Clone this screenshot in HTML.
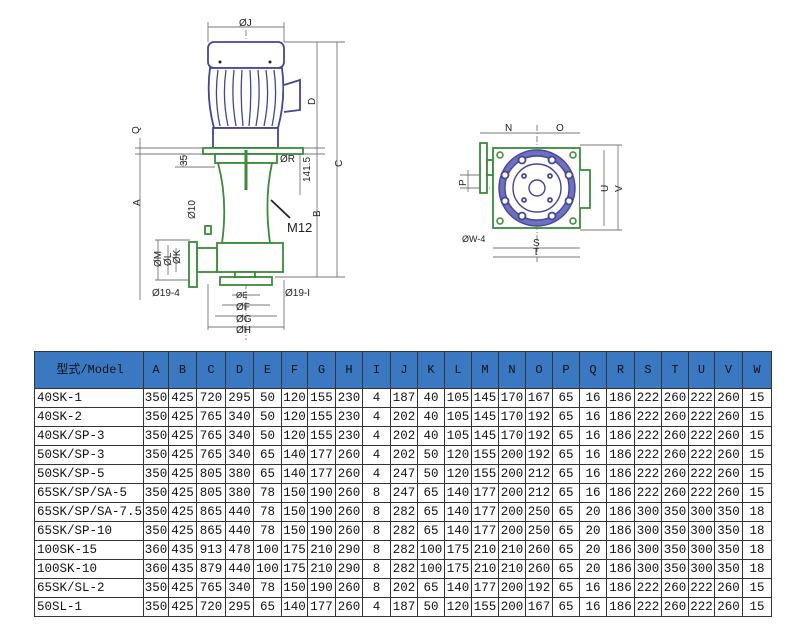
<!DOCTYPE html>
<html><head><meta charset="utf-8"><style>
body{margin:0;background:#fff;width:800px;height:630px;overflow:hidden;position:relative;font-family:"Liberation Mono","Noto Sans CJK SC",monospace}
svg{position:absolute;left:0;top:0}
table{position:absolute;left:34px;top:351px;border-collapse:collapse;table-layout:fixed}
td{border:1px solid #333;height:18px;padding:0;font-size:12.5px;text-align:center;line-height:18px;color:#111;white-space:nowrap;overflow:hidden}
tr.h td{background:#3a78c2;height:36px;font-size:12px;color:#111}
td.m{text-align:left;padding-left:2px}
tr.h td.m{text-align:center}
</style></head><body>
<svg width="800" height="350" viewBox="0 0 800 350" font-family="Liberation Sans,sans-serif" font-size="10" fill="#222">
<g stroke="#777" stroke-width="0.9" fill="none">
<line x1="208" y1="27" x2="284" y2="27"/><line x1="208" y1="22" x2="208" y2="42"/><line x1="284" y1="22" x2="284" y2="42"/>
<line x1="246" y1="30" x2="246" y2="340" stroke-dasharray="6,2,1,2"/>
<line x1="284" y1="42" x2="345" y2="42"/><line x1="300" y1="148" x2="325" y2="148"/><line x1="300" y1="154" x2="325" y2="154"/><line x1="275" y1="277" x2="345" y2="277"/>
<line x1="317" y1="42" x2="317" y2="277"/><line x1="337" y1="42" x2="337" y2="277"/>
<line x1="300" y1="154" x2="300" y2="195"/>
<line x1="140" y1="138" x2="140" y2="300"/><line x1="135" y1="148" x2="205" y2="148"/><line x1="135" y1="154" x2="205" y2="154"/>
<line x1="183" y1="154" x2="183" y2="167"/><line x1="175" y1="167" x2="215" y2="167"/>
<line x1="158" y1="240" x2="158" y2="280"/><line x1="168" y1="245" x2="168" y2="275"/><line x1="176" y1="248" x2="176" y2="272"/>
<line x1="155" y1="240" x2="190" y2="240"/><line x1="155" y1="280" x2="190" y2="280"/>
<line x1="208" y1="284" x2="208" y2="330"/><line x1="284" y1="280" x2="284" y2="330"/>
<line x1="208" y1="327" x2="284" y2="327"/><line x1="215" y1="316" x2="277" y2="316"/><line x1="222" y1="305" x2="270" y2="305"/><line x1="232" y1="295" x2="260" y2="295"/>
<line x1="480" y1="133" x2="580" y2="133"/><line x1="537" y1="125" x2="537" y2="262" stroke-dasharray="6,2,1,2"/>
<line x1="493" y1="248" x2="580" y2="248"/><line x1="493" y1="257" x2="580" y2="257"/>
<line x1="604" y1="150" x2="604" y2="226"/><line x1="618" y1="145" x2="618" y2="230"/>
<line x1="580" y1="145" x2="622" y2="145"/><line x1="580" y1="230" x2="622" y2="230"/>
<line x1="460" y1="175" x2="480" y2="175"/><line x1="460" y1="188" x2="480" y2="188"/><line x1="468" y1="170" x2="468" y2="192"/>
<line x1="470" y1="188" x2="537" y2="188" stroke-dasharray="6,2,1,2"/>
</g>
<g stroke="#44449a" stroke-width="1.8" fill="#fff">
<rect x="208" y="42" width="76" height="26" rx="6"/>
<path d="M210 68 Q206 98 214 128 L278 128 Q286 98 282 68 Z"/>
<path d="M284 85 L300 80 L300 110 L284 112" />
<rect x="213" y="128" width="65" height="20"/>
</g>
<g stroke="#44449a" stroke-width="1.3" fill="none">
<path d="M218 70 Q214 98 220 126M226 70 Q222 98 228 126M234 70 Q231 98 236 126M242 70 Q240 98 243 126M250 70 Q252 98 249 126M258 70 Q261 98 256 126M266 70 Q270 98 264 126M274 70 Q278 98 272 126"/>
</g>
<circle cx="220" cy="62" r="1.5" fill="#222"/><circle cx="270" cy="62" r="1.5" fill="#222"/>
<g stroke="#3a8a3a" stroke-width="1.8" fill="#fff">
<rect x="203" y="148" width="100" height="6"/>
<rect x="215" y="154" width="62" height="9"/>
<path d="M218 163 L272 163 Q264 200 270 243 L222 243 Q228 200 218 163 Z"/>
<rect x="217" y="243" width="66" height="29"/>
<rect x="197" y="248" width="20" height="24"/>
<rect x="189" y="242" width="8" height="45"/>
<rect x="220" y="277" width="52" height="8"/>
<rect x="235" y="272" width="20" height="5"/>
<rect x="205" y="226" width="6" height="8"/>
<rect x="480" y="143" width="7" height="50"/>
<rect x="487" y="160" width="6" height="15"/>
<rect x="493" y="148" width="87" height="80"/>
<path d="M580 170 L590 170 L590 208 L580 208"/>
</g>
<g stroke="#3a8a3a" fill="none" stroke-width="1.5"><circle cx="500" cy="155" r="3"/><circle cx="573" cy="155" r="3"/><circle cx="500" cy="221" r="3"/><circle cx="573" cy="221" r="3"/></g>
<line x1="246" y1="150" x2="246" y2="190" stroke="#3a8a3a" stroke-width="3"/>
<circle cx="537" cy="188" r="35" fill="none" stroke="#7070c0" stroke-width="6"/>
<g stroke="#44449a" fill="none" stroke-width="1.4">
<circle cx="537" cy="188" r="38"/><circle cx="537" cy="188" r="32"/><circle cx="537" cy="188" r="24"/><circle cx="537" cy="188" r="8"/>
</g>
<g fill="#fff" stroke="#44449a" stroke-width="1.8">
<circle cx="522" cy="160" r="3.5"/><circle cx="552" cy="160" r="3.5"/><circle cx="505" cy="175" r="3.5"/><circle cx="569" cy="175" r="3.5"/><circle cx="505" cy="201" r="3.5"/><circle cx="569" cy="201" r="3.5"/><circle cx="522" cy="216" r="3.5"/><circle cx="552" cy="216" r="3.5"/>
<circle cx="524" cy="176" r="2"/><circle cx="550" cy="176" r="2"/><circle cx="524" cy="200" r="2"/><circle cx="550" cy="200" r="2"/>
</g>
<line x1="271" y1="200" x2="290" y2="218" stroke="#222" stroke-width="1.8"/>
<text x="239" y="26">ØJ</text>
<text x="310" y="100" transform="rotate(-90 315 100)">D</text>
<text x="330" y="165" transform="rotate(-90 337 160)">C</text>
<text x="312" y="215" transform="rotate(-90 317 212)">B</text>
<text x="296" y="188" transform="rotate(-90 300 178)">141.5</text>
<text x="280" y="162">ØR</text>
<text x="287" y="232" font-size="13">M12</text>
<text x="133" y="132" transform="rotate(-90 137 130)">Q</text>
<text x="133" y="205" transform="rotate(-90 137 202)">A</text>
<text x="178" y="167" transform="rotate(-90 182 162)">35</text>
<text x="186" y="220" transform="rotate(-90 190 215)">Ø10</text>
<text x="150" y="268" transform="rotate(-90 155 262)">ØM</text>
<text x="161" y="266" transform="rotate(-90 166 261)">ØL</text>
<text x="171" y="265" transform="rotate(-90 175 260)">ØK</text>
<text x="152" y="296">Ø19-4</text>
<text x="285" y="296">Ø19-I</text>
<text x="236" y="298" font-size="8">ØE</text>
<text x="236" y="310">ØF</text>
<text x="236" y="322">ØG</text>
<text x="236" y="333">ØH</text>
<text x="505" y="131">N</text><text x="556" y="131">O</text>
<text x="458" y="186" transform="rotate(-90 462 182)">P</text>
<text x="600" y="192" transform="rotate(-90 604 188)">U</text>
<text x="614" y="192" transform="rotate(-90 618 188)">V</text>
<text x="462" y="242" font-size="9">ØW-4</text>
<text x="533" y="246">S</text><text x="533" y="255">T</text>
</svg>
<table>
<colgroup><col style="width:109px"><col style="width:25px"><col style="width:28px"><col style="width:29px"><col style="width:28px"><col style="width:28px"><col style="width:26px"><col style="width:28px"><col style="width:27px"><col style="width:28px"><col style="width:27px"><col style="width:27px"><col style="width:27px"><col style="width:27px"><col style="width:27px"><col style="width:27px"><col style="width:27px"><col style="width:27px"><col style="width:28px"><col style="width:27px"><col style="width:27px"><col style="width:26px"><col style="width:28px"><col style="width:29px"></colgroup>
<tr class="h"><td class="m">型式/Model</td><td>A</td><td>B</td><td>C</td><td>D</td><td>E</td><td>F</td><td>G</td><td>H</td><td>I</td><td>J</td><td>K</td><td>L</td><td>M</td><td>N</td><td>O</td><td>P</td><td>Q</td><td>R</td><td>S</td><td>T</td><td>U</td><td>V</td><td>W</td></tr>
<tr><td class="m">40SK-1</td><td>350</td><td>425</td><td>720</td><td>295</td><td>50</td><td>120</td><td>155</td><td>230</td><td>4</td><td>187</td><td>40</td><td>105</td><td>145</td><td>170</td><td>167</td><td>65</td><td>16</td><td>186</td><td>222</td><td>260</td><td>222</td><td>260</td><td>15</td></tr>
<tr><td class="m">40SK-2</td><td>350</td><td>425</td><td>765</td><td>340</td><td>50</td><td>120</td><td>155</td><td>230</td><td>4</td><td>202</td><td>40</td><td>105</td><td>145</td><td>170</td><td>192</td><td>65</td><td>16</td><td>186</td><td>222</td><td>260</td><td>222</td><td>260</td><td>15</td></tr>
<tr><td class="m">40SK/SP-3</td><td>350</td><td>425</td><td>765</td><td>340</td><td>50</td><td>120</td><td>155</td><td>230</td><td>4</td><td>202</td><td>40</td><td>105</td><td>145</td><td>170</td><td>192</td><td>65</td><td>16</td><td>186</td><td>222</td><td>260</td><td>222</td><td>260</td><td>15</td></tr>
<tr><td class="m">50SK/SP-3</td><td>350</td><td>425</td><td>765</td><td>340</td><td>65</td><td>140</td><td>177</td><td>260</td><td>4</td><td>202</td><td>50</td><td>120</td><td>155</td><td>200</td><td>192</td><td>65</td><td>16</td><td>186</td><td>222</td><td>260</td><td>222</td><td>260</td><td>15</td></tr>
<tr><td class="m">50SK/SP-5</td><td>350</td><td>425</td><td>805</td><td>380</td><td>65</td><td>140</td><td>177</td><td>260</td><td>4</td><td>247</td><td>50</td><td>120</td><td>155</td><td>200</td><td>212</td><td>65</td><td>16</td><td>186</td><td>222</td><td>260</td><td>222</td><td>260</td><td>15</td></tr>
<tr><td class="m">65SK/SP/SA-5</td><td>350</td><td>425</td><td>805</td><td>380</td><td>78</td><td>150</td><td>190</td><td>260</td><td>8</td><td>247</td><td>65</td><td>140</td><td>177</td><td>200</td><td>212</td><td>65</td><td>16</td><td>186</td><td>222</td><td>260</td><td>222</td><td>260</td><td>15</td></tr>
<tr><td class="m">65SK/SP/SA-7.5</td><td>350</td><td>425</td><td>865</td><td>440</td><td>78</td><td>150</td><td>190</td><td>260</td><td>8</td><td>282</td><td>65</td><td>140</td><td>177</td><td>200</td><td>250</td><td>65</td><td>20</td><td>186</td><td>300</td><td>350</td><td>300</td><td>350</td><td>18</td></tr>
<tr><td class="m">65SK/SP-10</td><td>350</td><td>425</td><td>865</td><td>440</td><td>78</td><td>150</td><td>190</td><td>260</td><td>8</td><td>282</td><td>65</td><td>140</td><td>177</td><td>200</td><td>250</td><td>65</td><td>20</td><td>186</td><td>300</td><td>350</td><td>300</td><td>350</td><td>18</td></tr>
<tr><td class="m">100SK-15</td><td>360</td><td>435</td><td>913</td><td>478</td><td>100</td><td>175</td><td>210</td><td>290</td><td>8</td><td>282</td><td>100</td><td>175</td><td>210</td><td>210</td><td>260</td><td>65</td><td>20</td><td>186</td><td>300</td><td>350</td><td>300</td><td>350</td><td>18</td></tr>
<tr><td class="m">100SK-10</td><td>360</td><td>435</td><td>879</td><td>440</td><td>100</td><td>175</td><td>210</td><td>290</td><td>8</td><td>282</td><td>100</td><td>175</td><td>210</td><td>210</td><td>260</td><td>65</td><td>20</td><td>186</td><td>300</td><td>350</td><td>300</td><td>350</td><td>18</td></tr>
<tr><td class="m">65SK/SL-2</td><td>350</td><td>425</td><td>765</td><td>340</td><td>78</td><td>150</td><td>190</td><td>260</td><td>8</td><td>202</td><td>65</td><td>140</td><td>177</td><td>200</td><td>192</td><td>65</td><td>16</td><td>186</td><td>222</td><td>260</td><td>222</td><td>260</td><td>15</td></tr>
<tr><td class="m">50SL-1</td><td>350</td><td>425</td><td>720</td><td>295</td><td>65</td><td>140</td><td>177</td><td>260</td><td>4</td><td>187</td><td>50</td><td>120</td><td>155</td><td>200</td><td>167</td><td>65</td><td>16</td><td>186</td><td>222</td><td>260</td><td>222</td><td>260</td><td>15</td></tr>
</table>
</body></html>
